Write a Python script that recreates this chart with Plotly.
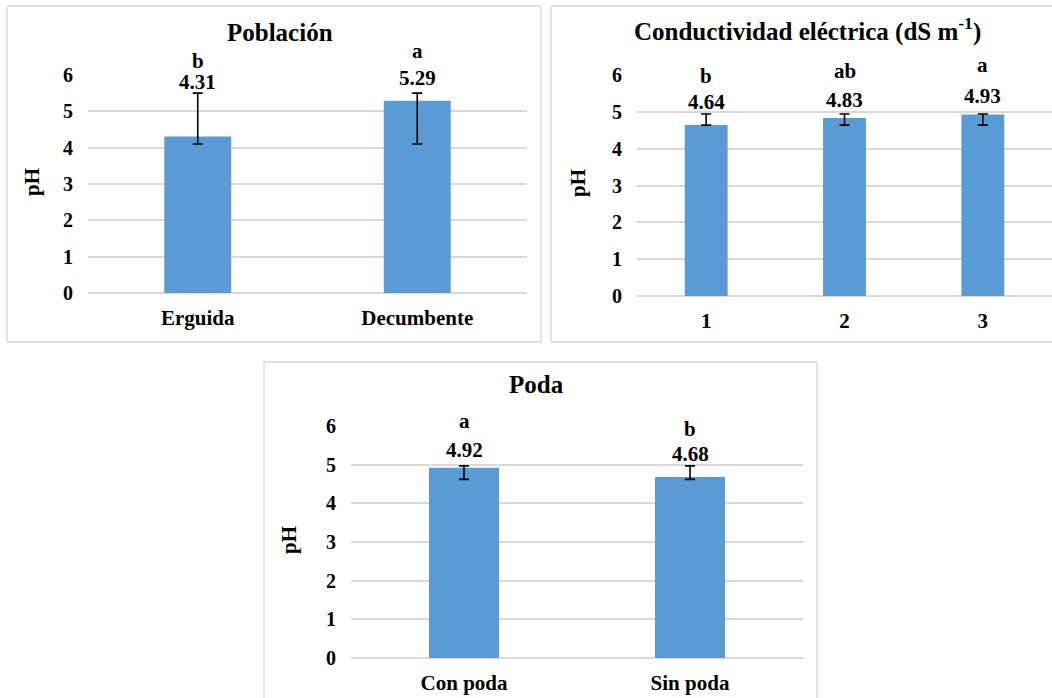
import plotly.graph_objects as go

# ---- data -------------------------------------------------------------
pob_cats = ["Erguida", "Decumbente"]
pob_ph = [4.31, 5.29]
pob_err_top = [5.50, 5.50]
pob_err_bot = [4.10, 4.10]
pob_letters = ["b", "a"]

ce_cats = ["1", "2", "3"]
ce_ph = [4.64, 4.83, 4.93]
ce_err_top = [4.94, 4.94, 4.94]
ce_err_bot = [4.64, 4.64, 4.64]
ce_letters = ["b", "ab", "a"]

poda_cats = ["Con poda", "Sin poda"]
poda_ph = [4.92, 4.68]
poda_err_top = [4.97, 4.97]
poda_err_bot = [4.62, 4.62]
poda_letters = ["a", "b"]

y_ticks = [0, 1, 2, 3, 4, 5, 6]

# ---- layout helpers --------------------------------------------------
W, H = 1052, 698
FONT = "Liberation Serif, Times New Roman, serif"
BAR = "#5B9BD5"
GRID = "#D9D9D9"


def px(x):
    return x / W


def py(y):
    return 1 - y / H


def bold(size):
    return dict(family=FONT, size=size, color="black", weight="bold")


fig = go.Figure()

panels = [
    dict(cats=pob_cats, vals=pob_ph, top=pob_err_top, bot=pob_err_bot,
         letters=pob_letters, xs="x", ys="y",
         xdom=(88, 527), ydom=(293, 75), width=0.305,
         val_lift=[11, 15], let_lift=[32, 42]),
    dict(cats=ce_cats, vals=ce_ph, top=ce_err_top, bot=ce_err_bot,
         letters=ce_letters, xs="x2", ys="y2",
         xdom=(637, 1052), ydom=(296, 75), width=0.31,
         val_lift=[12, 14, 18], let_lift=[38, 43, 49]),
    dict(cats=poda_cats, vals=poda_ph, top=poda_err_top, bot=poda_err_bot,
         letters=poda_letters, xs="x3", ys="y3",
         xdom=(351, 803), ydom=(658, 426), width=0.31,
         val_lift=[16, 12], let_lift=[45, 37]),
]

annotations = []
for i, p in enumerate(panels):
    pos = list(range(len(p["cats"])))
    plus = [t - v for t, v in zip(p["top"], p["vals"])]
    minus = [v - b for v, b in zip(p["vals"], p["bot"])]
    fig.add_trace(go.Bar(
        x=pos, y=p["vals"], xaxis=p["xs"], yaxis=p["ys"],
        width=p["width"], marker=dict(color=BAR, line=dict(width=0)),
        error_y=dict(type="data", symmetric=False, array=plus,
                     arrayminus=minus, color="black", thickness=1.6,
                     width=5),
        showlegend=False, hoverinfo="skip",
    ))
    for k, v, t, let, vl, ll in zip(pos, p["vals"], p["top"],
                                    p["letters"], p["val_lift"],
                                    p["let_lift"]):
        annotations.append(dict(
            x=k, y=t, xref=p["xs"], yref=p["ys"], text=f"{v:.2f}",
            showarrow=False, yanchor="middle", yshift=vl, font=bold(21)))
        annotations.append(dict(
            x=k, y=t, xref=p["xs"], yref=p["ys"], text=let,
            showarrow=False, yanchor="middle", yshift=ll, font=bold(21)))

    suffix = "" if i == 0 else str(i + 1)
    xd = [px(p["xdom"][0]), min(px(p["xdom"][1]), 1.0)]
    yd = [py(p["ydom"][0]), py(p["ydom"][1])]
    fig.update_layout(**{
        "xaxis" + suffix: dict(
            domain=xd, range=[-0.5, len(pos) - 0.5], anchor=p["ys"],
            tickvals=pos, ticktext=p["cats"], automargin=False,
            showgrid=False, showline=False, zeroline=False, ticks="",
            ticklabelstandoff=10, tickfont=bold(21)),
        "yaxis" + suffix: dict(
            domain=yd, range=[0, 6], anchor=p["xs"], automargin=False,
            tickvals=y_ticks, showgrid=True, gridcolor=GRID, gridwidth=1.6,
            zeroline=True, zerolinecolor=GRID, zerolinewidth=1.6,
            showline=False, ticks="", ticklabelstandoff=14,
            tickfont=bold(20)),
    })

# panel titles and y-axis titles
titles = [
    ("Población", 280, 32),
    ("Conductividad eléctrica (dS m<sup>-1</sup>)", 807, 29),
    ("Poda", 536, 384),
]
for txt, x, y in titles:
    annotations.append(dict(
        x=px(x), y=py(y), xref="paper", yref="paper", text=txt,
        showarrow=False, xanchor="center", yanchor="middle", font=bold(25)))

ylabels = [(32, 182), (578, 183), (289, 540)]
for x, y in ylabels:
    annotations.append(dict(
        x=px(x), y=py(y), xref="paper", yref="paper", text="pH",
        textangle=-90, showarrow=False, xanchor="center", yanchor="middle",
        font=bold(21)))


# chart frames (the third one runs off the bottom, the second off the right)
def frame_path(pts):
    return "M " + " L ".join(f"{px(a):.5f},{py(b):.5f}" for a, b in pts)


frames = [
    [(7, 6), (541, 6), (541, 342), (7, 342), (7, 6)],
    [(1052, 6), (551, 6), (551, 342), (1052, 342)],
    [(264, 698), (264, 362), (817, 362), (817, 698)],
]
shapes = [dict(type="path", xref="paper", yref="paper", path=frame_path(f),
               line=dict(color=GRID, width=1.3), layer="below")
          for f in frames]

fig.update_layout(
    width=W, height=H, margin=dict(l=0, r=0, t=0, b=0, pad=0),
    paper_bgcolor="white", plot_bgcolor="rgba(0,0,0,0)",
    annotations=annotations, shapes=shapes,
)

fig.write_html("out.html")
